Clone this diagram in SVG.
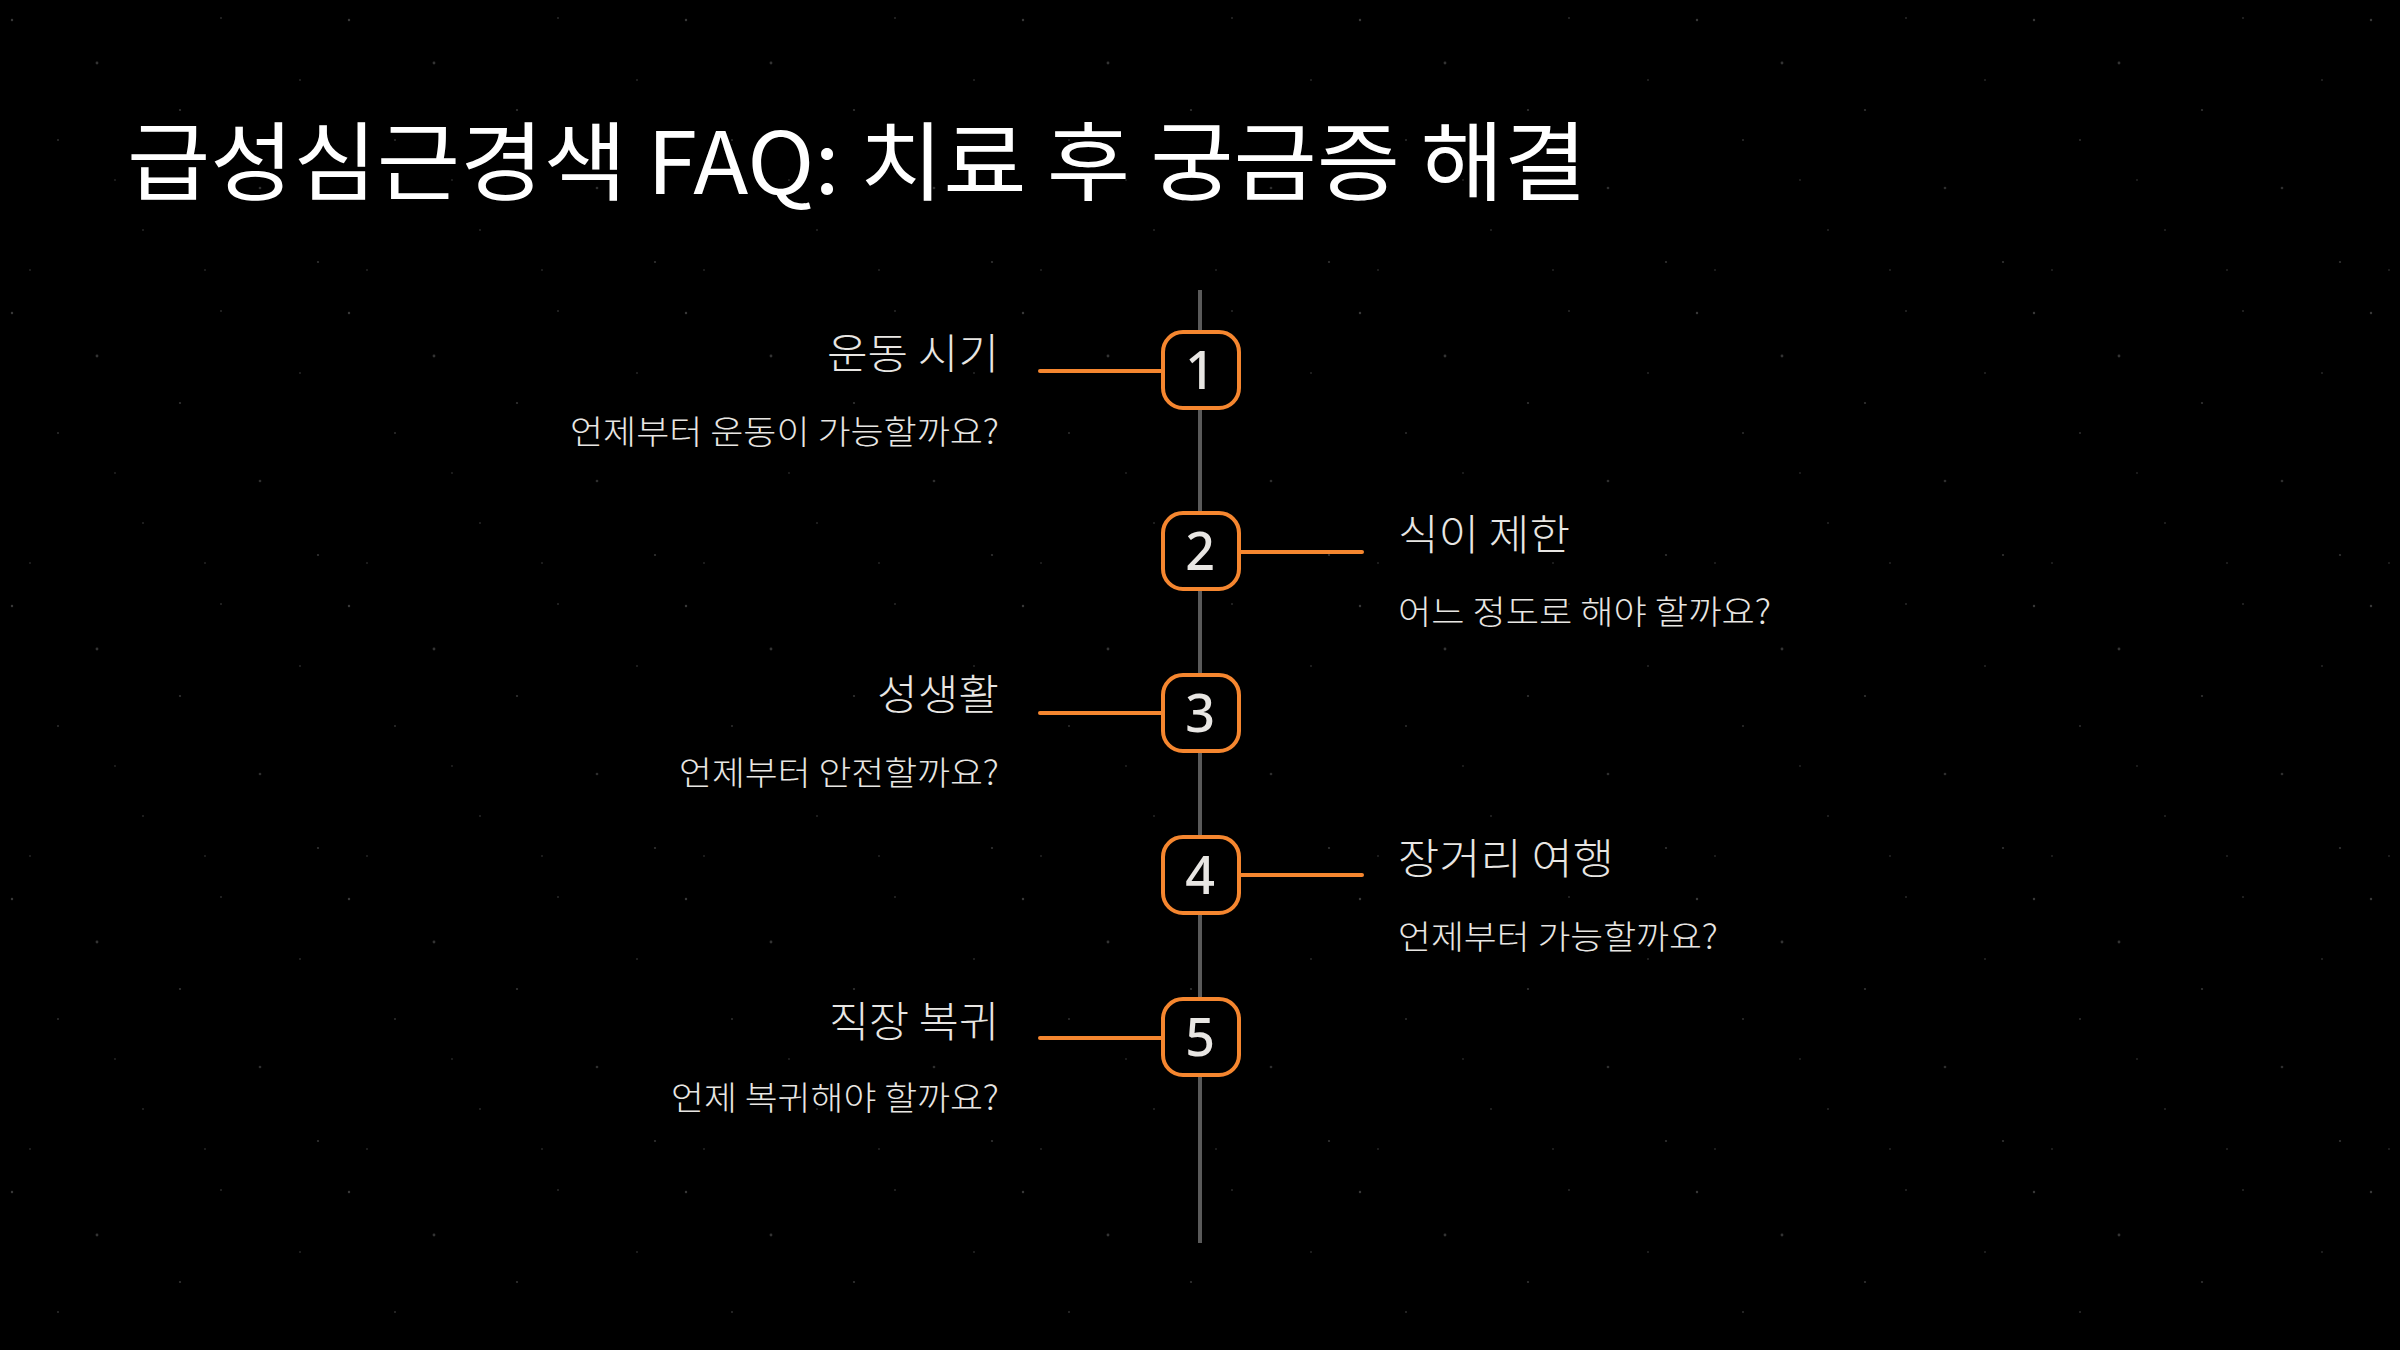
<svg xmlns="http://www.w3.org/2000/svg" width="2400" height="1350" viewBox="0 0 2400 1350">
  <defs>
    <pattern id="stars" x="0" y="0" width="337" height="293" patternUnits="userSpaceOnUse">
      <circle cx="12" cy="20" r="1.2" fill="#fff" opacity="0.22"/>
      <circle cx="58" cy="140" r="1" fill="#fff" opacity="0.18"/>
      <circle cx="97" cy="63" r="1.4" fill="#fff" opacity="0.2"/>
      <circle cx="143" cy="230" r="1" fill="#fff" opacity="0.15"/>
      <circle cx="180" cy="110" r="1.1" fill="#fff" opacity="0.2"/>
      <circle cx="221" cy="18" r="1" fill="#fff" opacity="0.16"/>
      <circle cx="260" cy="188" r="1.3" fill="#fff" opacity="0.18"/>
      <circle cx="300" cy="80" r="1" fill="#fff" opacity="0.15"/>
      <circle cx="318" cy="262" r="1.1" fill="#fff" opacity="0.2"/>
      <circle cx="30" cy="270" r="1" fill="#fff" opacity="0.14"/>
      <circle cx="205" cy="270" r="1" fill="#fff" opacity="0.14"/>
      <circle cx="115" cy="180" r="0.9" fill="#fff" opacity="0.15"/>
    </pattern>
    <style>
      .title { font-family: "Noto Sans CJK KR", "Noto Sans", sans-serif; font-size: 86px; fill: #ffffff; font-weight: 400; }
      .head { font-family: "Noto Sans CJK KR", "Noto Sans", sans-serif; font-size: 42px; fill: #e8e6e3; font-weight: 300; }
      .sub { font-family: "Noto Sans CJK KR", "Noto Sans", sans-serif; font-size: 33px; fill: #e8e6e3; font-weight: 300; }
      .num { font-family: "Noto Sans", "DejaVu Sans", sans-serif; font-size: 52px; font-weight: 500; fill: #e8e6e3; text-anchor: middle; }
      .box { fill: #000; stroke: #F5862F; stroke-width: 4; }
      .conn { stroke: #F5862F; stroke-width: 4; stroke-linecap: round; fill: none; }
      .spine { stroke: #5a5a5a; stroke-width: 4; }
      .left { text-anchor: end; }
    </style>
  </defs>
  <rect width="2400" height="1350" fill="#000"/>
  <rect width="2400" height="1350" fill="url(#stars)"/>

  <text class="title" x="127" y="194" textLength="1460" lengthAdjust="spacingAndGlyphs">급성심근경색 FAQ: 치료 후 궁금증 해결</text>

  <g id="connectors">
    <line class="spine" x1="1200" y1="290" x2="1200" y2="1243"/>
    <line class="conn" x1="1040" y1="371" x2="1162" y2="371"/>
    <line class="conn" x1="1240" y1="552" x2="1362" y2="552"/>
    <line class="conn" x1="1040" y1="713" x2="1162" y2="713"/>
    <line class="conn" x1="1240" y1="875" x2="1362" y2="875"/>
    <line class="conn" x1="1040" y1="1038" x2="1162" y2="1038"/>
  </g>

  <g id="node1">
    <rect class="box" x="1163" y="332" width="76" height="76" rx="20"/>
    <text class="num" x="1200" y="389">1</text>
    <text class="head left" x="999" y="369" textLength="172" lengthAdjust="spacingAndGlyphs">운동 시기</text>
    <text class="sub left" x="999" y="444" textLength="429" lengthAdjust="spacingAndGlyphs">언제부터 운동이 가능할까요?</text>
  </g>

  <g id="node2">
    <rect class="box" x="1163" y="513" width="76" height="76" rx="20"/>
    <text class="num" x="1200" y="570">2</text>
    <text class="head" x="1398" y="550" textLength="172" lengthAdjust="spacingAndGlyphs">식이 제한</text>
    <text class="sub" x="1398" y="624" textLength="373" lengthAdjust="spacingAndGlyphs">어느 정도로 해야 할까요?</text>
  </g>

  <g id="node3">
    <rect class="box" x="1163" y="675" width="76" height="76" rx="20"/>
    <text class="num" x="1200" y="732">3</text>
    <text class="head left" x="999" y="710" textLength="122" lengthAdjust="spacingAndGlyphs">성생활</text>
    <text class="sub left" x="999" y="785" textLength="320" lengthAdjust="spacingAndGlyphs">언제부터 안전할까요?</text>
  </g>

  <g id="node4">
    <rect class="box" x="1163" y="837" width="76" height="76" rx="20"/>
    <text class="num" x="1200" y="894">4</text>
    <text class="head" x="1398" y="874" textLength="216" lengthAdjust="spacingAndGlyphs">장거리 여행</text>
    <text class="sub" x="1398" y="949" textLength="320" lengthAdjust="spacingAndGlyphs">언제부터 가능할까요?</text>
  </g>

  <g id="node5">
    <rect class="box" x="1163" y="999" width="76" height="76" rx="20"/>
    <text class="num" x="1200" y="1056">5</text>
    <text class="head left" x="999" y="1037" textLength="170" lengthAdjust="spacingAndGlyphs">직장 복귀</text>
    <text class="sub left" x="999" y="1110" textLength="328" lengthAdjust="spacingAndGlyphs">언제 복귀해야 할까요?</text>
  </g>
</svg>
